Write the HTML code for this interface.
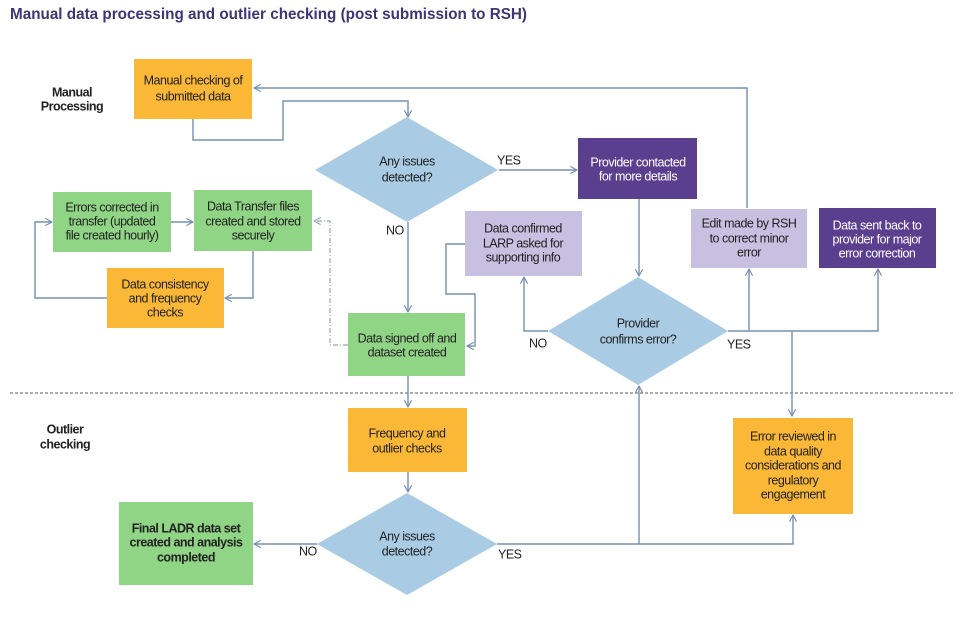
<!DOCTYPE html>
<html><head><meta charset="utf-8"><style>
html,body{margin:0;padding:0;background:#fff;}
svg{display:block;}
text{font-family:"Liberation Sans",Arial,sans-serif;}
.t{font-size:12.5px;fill:#222;text-anchor:middle;letter-spacing:-0.5px;dominant-baseline:middle;}
.w{fill:#fff;}
.b{font-weight:bold;letter-spacing:-0.5px;}
.lbl{font-size:12.5px;fill:#222;letter-spacing:-0.5px;dominant-baseline:middle;}
.ln{fill:none;stroke:#7590b2;stroke-width:1.4;}
</style></head><body>
<svg width="960" height="640" viewBox="0 0 960 640" xmlns="http://www.w3.org/2000/svg">
<defs>
<marker id="a" viewBox="0 0 10 10" refX="9.5" refY="5" markerWidth="9" markerHeight="9" orient="auto" markerUnits="userSpaceOnUse">
<polyline points="2,1 9.5,5 2,9" fill="none" stroke="#7590b2" stroke-width="1.3"/>
</marker>
<marker id="g" viewBox="0 0 10 10" refX="9.5" refY="5" markerWidth="9" markerHeight="9" orient="auto" markerUnits="userSpaceOnUse">
<polyline points="2,1 9.5,5 2,9" fill="none" stroke="#9aa5b4" stroke-width="1.3"/>
</marker>
</defs>

<text x="10" y="19" textLength="517" lengthAdjust="spacingAndGlyphs" style="font-size:16px;font-weight:bold;fill:#3d3575;">Manual data processing and outlier checking (post submission to RSH)</text>

<!-- section labels -->
<text class="t b" x="72" y="93">Manual</text>
<text class="t b" x="72" y="107">Processing</text>
<text class="t b" x="65" y="430">Outlier</text>
<text class="t b" x="65" y="445">checking</text>

<!-- separator -->
<line x1="10" y1="393" x2="955" y2="393" stroke="#5a5a5a" stroke-width="1" stroke-dasharray="3,2"/>

<!-- connectors -->
<path class="ln" d="M193,119 V140 H283 V101 H408 V117" marker-end="url(#a)"/>
<path class="ln" d="M747,208 V88 H254" marker-end="url(#a)"/>
<path class="ln" d="M499,170 H577" marker-end="url(#a)"/>
<path class="ln" d="M408,222 V312" marker-end="url(#a)"/>
<path class="ln" d="M639,199 V276" marker-end="url(#a)"/>
<path class="ln" d="M548,331 H524 V277" marker-end="url(#a)"/>
<path class="ln" d="M465,244 H446 V294 H475 V346 H467" marker-end="url(#a)"/>
<path class="ln" d="M728,331 H878 V269" marker-end="url(#a)"/>
<path class="ln" d="M749,331 V269" marker-end="url(#a)"/>
<path class="ln" d="M792,331 V416" marker-end="url(#a)"/>
<path d="M348,345 H330 V221 H314" fill="none" stroke="#9aa5b4" stroke-width="1.2" stroke-dasharray="5,2,1,2" marker-end="url(#g)"/>
<path class="ln" d="M171,222 H193" marker-end="url(#a)"/>
<path class="ln" d="M253,251 V298 H225" marker-end="url(#a)"/>
<path class="ln" d="M107,298 H35 V222 H52" marker-end="url(#a)"/>
<path class="ln" d="M408,376 V407" marker-end="url(#a)"/>
<path class="ln" d="M408,472 V492" marker-end="url(#a)"/>
<path class="ln" d="M317,544 H254" marker-end="url(#a)"/>
<path class="ln" d="M497,544 H793 V515" marker-end="url(#a)"/>
<path class="ln" d="M639,544 V386" marker-end="url(#a)"/>

<!-- boxes -->
<rect x="134" y="59" width="118" height="60" fill="#fbb836"/>
<text class="t" x="193" y="81">Manual checking of</text>
<text class="t" x="193" y="97">submitted data</text>

<polygon points="407,117 498,170 407,222 315,170" fill="#a9cce4"/>
<text class="t" x="407" y="162">Any issues</text>
<text class="t" x="407" y="178">detected?</text>

<rect x="578" y="138" width="119" height="61" fill="#5b3f8f"/>
<text class="t w" x="638" y="163">Provider contacted</text>
<text class="t w" x="638" y="177">for more details</text>

<rect x="53" y="192" width="118" height="60" fill="#90d485"/>
<text class="t" x="112" y="208">Errors corrected in</text>
<text class="t" x="112" y="222">transfer (updated</text>
<text class="t" x="112" y="236">file created hourly)</text>

<rect x="194" y="190" width="118" height="61" fill="#90d485"/>
<text class="t" x="253" y="207">Data Transfer files</text>
<text class="t" x="253" y="222">created and stored</text>
<text class="t" x="253" y="236">securely</text>

<rect x="107" y="268" width="117" height="60" fill="#fbb836"/>
<text class="t" x="165" y="285">Data consistency</text>
<text class="t" x="165" y="299">and frequency</text>
<text class="t" x="165" y="313">checks</text>

<rect x="348" y="313" width="117" height="63" fill="#90d485"/>
<text class="t" x="407" y="339">Data signed off and</text>
<text class="t" x="407" y="353">dataset created</text>

<rect x="465" y="211" width="117" height="65" fill="#c8c0e0"/>
<text class="t" x="523" y="229">Data confirmed</text>
<text class="t" x="523" y="244">LARP asked for</text>
<text class="t" x="523" y="258">supporting info</text>

<rect x="691" y="209" width="116" height="59" fill="#c8c0e0"/>
<text class="t" x="749" y="224">Edit made by RSH</text>
<text class="t" x="749" y="239">to correct minor</text>
<text class="t" x="749" y="253">error</text>

<rect x="819" y="208" width="117" height="60" fill="#5b3f8f"/>
<text class="t w" x="877" y="226">Data sent back to</text>
<text class="t w" x="877" y="240">provider for major</text>
<text class="t w" x="877" y="254">error correction</text>

<polygon points="638,277 728,331 638,385 548,331" fill="#a9cce4"/>
<text class="t" x="638" y="324">Provider</text>
<text class="t" x="638" y="340">confirms error?</text>

<rect x="348" y="408" width="119" height="64" fill="#fbb836"/>
<text class="t" x="407" y="434">Frequency and</text>
<text class="t" x="407" y="449">outlier checks</text>

<polygon points="407,493 497,544 407,595 317,544" fill="#a9cce4"/>
<text class="t" x="407" y="537">Any issues</text>
<text class="t" x="407" y="552">detected?</text>

<rect x="119" y="502" width="134" height="83" fill="#90d485"/>
<text class="t b" x="186" y="529">Final LADR data set</text>
<text class="t b" x="186" y="543">created and analysis</text>
<text class="t b" x="186" y="558">completed</text>

<rect x="733" y="418" width="120" height="96" fill="#fbb836"/>
<text class="t" x="793" y="437">Error reviewed in</text>
<text class="t" x="793" y="452">data quality</text>
<text class="t" x="793" y="466">considerations and</text>
<text class="t" x="793" y="481">regulatory</text>
<text class="t" x="793" y="495">engagement</text>

<!-- labels -->
<text class="lbl" x="497" y="161">YES</text>
<text class="lbl" x="386" y="231">NO</text>
<text class="lbl" x="529" y="344">NO</text>
<text class="lbl" x="727" y="345">YES</text>
<text class="lbl" x="299" y="552">NO</text>
<text class="lbl" x="498" y="555">YES</text>
</svg>
</body></html>
